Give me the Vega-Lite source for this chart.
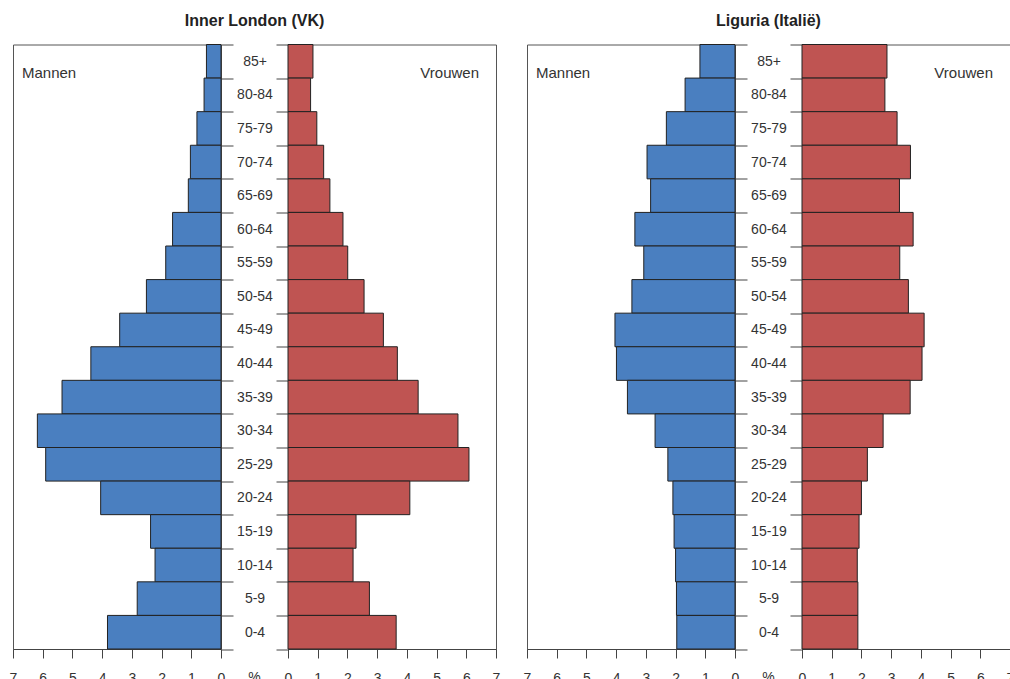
{
  "$schema": "https://vega.github.io/schema/vega-lite/v6.json",
  "padding": {"left": 8, "top": 12.5, "right": 0, "bottom": 0},
  "spacing": 21,
  "config": {
    "font": "Liberation Sans",
    "view": {"stroke": "#555", "strokeWidth": 1},
    "axis": {"labelFont": "Liberation Sans", "labelFontSize": 14, "labelColor": "#333", "tickColor": "#444", "domainColor": "#444", "grid": false}
  },
  "datasets": {
    "london": [
      {"age": "85+", "m": 0.49, "v": 0.84},
      {"age": "80-84", "m": 0.57, "v": 0.76},
      {"age": "75-79", "m": 0.81, "v": 0.97},
      {"age": "70-74", "m": 1.03, "v": 1.20},
      {"age": "65-69", "m": 1.10, "v": 1.41},
      {"age": "60-64", "m": 1.63, "v": 1.85},
      {"age": "55-59", "m": 1.86, "v": 2.01},
      {"age": "50-54", "m": 2.51, "v": 2.56},
      {"age": "45-49", "m": 3.41, "v": 3.21},
      {"age": "40-44", "m": 4.38, "v": 3.68},
      {"age": "35-39", "m": 5.35, "v": 4.38},
      {"age": "30-34", "m": 6.18, "v": 5.72},
      {"age": "25-29", "m": 5.90, "v": 6.09},
      {"age": "20-24", "m": 4.05, "v": 4.10},
      {"age": "15-19", "m": 2.37, "v": 2.29},
      {"age": "10-14", "m": 2.22, "v": 2.19},
      {"age": "5-9", "m": 2.82, "v": 2.74},
      {"age": "0-4", "m": 3.82, "v": 3.64}
    ],
    "liguria": [
      {"age": "85+", "m": 1.18, "v": 2.86},
      {"age": "80-84", "m": 1.68, "v": 2.79},
      {"age": "75-79", "m": 2.31, "v": 3.20},
      {"age": "70-74", "m": 2.96, "v": 3.65},
      {"age": "65-69", "m": 2.84, "v": 3.28},
      {"age": "60-64", "m": 3.37, "v": 3.74},
      {"age": "55-59", "m": 3.07, "v": 3.29},
      {"age": "50-54", "m": 3.47, "v": 3.58},
      {"age": "45-49", "m": 4.04, "v": 4.11},
      {"age": "40-44", "m": 3.99, "v": 4.04},
      {"age": "35-39", "m": 3.62, "v": 3.64},
      {"age": "30-34", "m": 2.69, "v": 2.73},
      {"age": "25-29", "m": 2.26, "v": 2.20},
      {"age": "20-24", "m": 2.09, "v": 2.00},
      {"age": "15-19", "m": 2.05, "v": 1.92},
      {"age": "10-14", "m": 2.00, "v": 1.86},
      {"age": "5-9", "m": 1.97, "v": 1.88},
      {"age": "0-4", "m": 1.96, "v": 1.88}
    ]
  },
  "hconcat": [
    {
      "title": {"text": "Inner London (VK)", "anchor": "middle", "frame": "bounds", "fontSize": 16, "fontWeight": "bold", "color": "#222", "offset": 8},
      "bounds": "flush",
      "spacing": 67,
      "hconcat": [
        {
          "width": 208, "height": 604.5,
          "data": {"name": "london"},
          "resolve": {"axis": {"x": "independent", "y": "independent"}},
          "layer": [
            {
              "mark": {"type": "bar", "fill": "#4a7fc0", "stroke": "#222", "strokeWidth": 1},
              "encoding": {
                "y": {"field": "age", "type": "nominal", "sort": ["85+","80-84","75-79","70-74","65-69","60-64","55-59","50-54","45-49","40-44","35-39","30-34","25-29","20-24","15-19","10-14","5-9","0-4"], "scale": {"paddingInner": 0, "paddingOuter": 0}, "axis": {"orient": "right", "tickBand": "extent", "tickSize": 12, "labels": false, "domain": false, "title": null}},
                "x": {"field": "m", "type": "quantitative", "scale": {"domain": [0, 7], "reverse": true, "nice": false}, "axis": {"values": [0,1,2,3,4,5,6,7], "format": "d", "title": null, "tickSize": 9, "labelPadding": 13, "labelOverlap": false, "labelFlush": false}}
              }
            },
            {
              "data": {"values": [{"label": "Mannen"}]},
              "mark": {"type": "text", "align": "left", "baseline": "middle", "dx": 9, "dy": 12, "fontSize": 15, "color": "#333"},
              "encoding": {"text": {"field": "label"}, "x": {"datum": 7, "type": "quantitative", "axis": null}, "y": {"datum": "85+", "type": "nominal", "axis": null}}
            }
          ]
        },
        {
          "width": 208, "height": 604.5,
          "data": {"name": "london"},
          "resolve": {"axis": {"x": "independent", "y": "independent"}},
          "layer": [
            {
              "mark": {"type": "bar", "fill": "#bf5452", "stroke": "#222", "strokeWidth": 1},
              "encoding": {
                "y": {"field": "age", "type": "nominal", "sort": ["85+","80-84","75-79","70-74","65-69","60-64","55-59","50-54","45-49","40-44","35-39","30-34","25-29","20-24","15-19","10-14","5-9","0-4"], "scale": {"paddingInner": 0, "paddingOuter": 0}, "axis": {"orient": "left", "tickBand": "extent", "tickSize": 12, "labelAlign": "center", "labelBaseline": "middle", "labelPadding": 21.5, "domain": false, "title": null}},
                "x": {"field": "v", "type": "quantitative", "scale": {"domain": [0, 7], "nice": false}, "axis": {"values": [0,1,2,3,4,5,6,7], "format": "d", "title": null, "tickSize": 9, "labelPadding": 13, "labelOverlap": false, "labelFlush": false}}
              }
            },
            {
              "data": {"values": [{"label": "Vrouwen"}]},
              "mark": {"type": "text", "align": "right", "baseline": "middle", "dx": -17, "dy": 12, "fontSize": 15, "color": "#333"},
              "encoding": {"text": {"field": "label"}, "x": {"datum": 7, "type": "quantitative", "axis": null}, "y": {"datum": "85+", "type": "nominal", "axis": null}}
            },
            {
              "data": {"values": [{"label": "%"}]},
              "mark": {"type": "text", "align": "center", "baseline": "top", "dx": -33.5, "dy": 38.8, "fontSize": 14, "color": "#333"},
              "encoding": {"text": {"field": "label"}, "x": {"datum": 0, "type": "quantitative", "axis": null}, "y": {"datum": "0-4", "type": "nominal", "axis": null}}
            }
          ]
        }
      ]
    },
    {
      "title": {"text": "Liguria (Italië)", "anchor": "middle", "frame": "bounds", "fontSize": 16, "fontWeight": "bold", "color": "#222", "offset": 8},
      "bounds": "flush",
      "spacing": 67,
      "hconcat": [
        {
          "width": 208, "height": 604.5,
          "data": {"name": "liguria"},
          "resolve": {"axis": {"x": "independent", "y": "independent"}},
          "layer": [
            {
              "mark": {"type": "bar", "fill": "#4a7fc0", "stroke": "#222", "strokeWidth": 1},
              "encoding": {
                "y": {"field": "age", "type": "nominal", "sort": ["85+","80-84","75-79","70-74","65-69","60-64","55-59","50-54","45-49","40-44","35-39","30-34","25-29","20-24","15-19","10-14","5-9","0-4"], "scale": {"paddingInner": 0, "paddingOuter": 0}, "axis": {"orient": "right", "tickBand": "extent", "tickSize": 12, "labels": false, "domain": false, "title": null}},
                "x": {"field": "m", "type": "quantitative", "scale": {"domain": [0, 7], "reverse": true, "nice": false}, "axis": {"values": [0,1,2,3,4,5,6,7], "format": "d", "title": null, "tickSize": 9, "labelPadding": 13, "labelOverlap": false, "labelFlush": false}}
              }
            },
            {
              "data": {"values": [{"label": "Mannen"}]},
              "mark": {"type": "text", "align": "left", "baseline": "middle", "dx": 9, "dy": 12, "fontSize": 15, "color": "#333"},
              "encoding": {"text": {"field": "label"}, "x": {"datum": 7, "type": "quantitative", "axis": null}, "y": {"datum": "85+", "type": "nominal", "axis": null}}
            }
          ]
        },
        {
          "width": 208, "height": 604.5,
          "data": {"name": "liguria"},
          "resolve": {"axis": {"x": "independent", "y": "independent"}},
          "layer": [
            {
              "mark": {"type": "bar", "fill": "#bf5452", "stroke": "#222", "strokeWidth": 1},
              "encoding": {
                "y": {"field": "age", "type": "nominal", "sort": ["85+","80-84","75-79","70-74","65-69","60-64","55-59","50-54","45-49","40-44","35-39","30-34","25-29","20-24","15-19","10-14","5-9","0-4"], "scale": {"paddingInner": 0, "paddingOuter": 0}, "axis": {"orient": "left", "tickBand": "extent", "tickSize": 12, "labelAlign": "center", "labelBaseline": "middle", "labelPadding": 21.5, "domain": false, "title": null}},
                "x": {"field": "v", "type": "quantitative", "scale": {"domain": [0, 7], "nice": false}, "axis": {"values": [0,1,2,3,4,5,6,7], "format": "d", "title": null, "tickSize": 9, "labelPadding": 13, "labelOverlap": false, "labelFlush": false}}
              }
            },
            {
              "data": {"values": [{"label": "Vrouwen"}]},
              "mark": {"type": "text", "align": "right", "baseline": "middle", "dx": -17, "dy": 12, "fontSize": 15, "color": "#333"},
              "encoding": {"text": {"field": "label"}, "x": {"datum": 7, "type": "quantitative", "axis": null}, "y": {"datum": "85+", "type": "nominal", "axis": null}}
            },
            {
              "data": {"values": [{"label": "%"}]},
              "mark": {"type": "text", "align": "center", "baseline": "top", "dx": -33.5, "dy": 38.8, "fontSize": 14, "color": "#333"},
              "encoding": {"text": {"field": "label"}, "x": {"datum": 0, "type": "quantitative", "axis": null}, "y": {"datum": "0-4", "type": "nominal", "axis": null}}
            }
          ]
        }
      ]
    }
  ]
}
